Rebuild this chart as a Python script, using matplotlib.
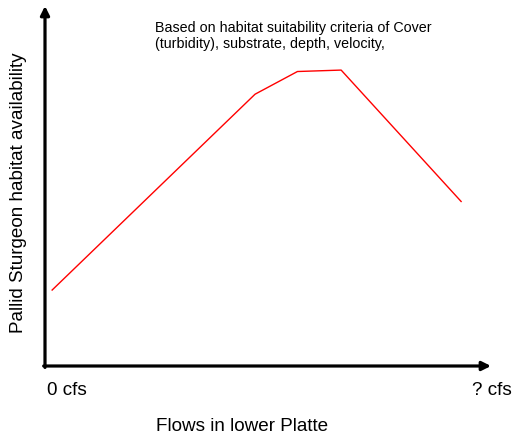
import matplotlib
matplotlib.use("Agg")
import matplotlib.pyplot as plt

plt.rcParams["font.family"] = ["Liberation Sans", "DejaVu Sans"]

# flow (arbitrary units, 0..100) vs habitat availability (0..100)
flow = [1.6, 47.1, 56.6, 66.4, 93.3]
habitat = [21.1, 75.5, 81.8, 82.2, 45.7]

W, H = 515, 440
fig = plt.figure(figsize=(W / 100, H / 100), dpi=100)

# axes: origin at (45, 366) px, x arrow to 491 px, y arrow to 6 px
ax = fig.add_axes([45 / W, (H - 366) / H, (491 - 45) / W, (366 - 6) / H])
ax.set_xlim(0, 100)
ax.set_ylim(0, 100)
ax.axis("off")

ax.plot(flow, habitat, color="#ff0000", lw=1.0)

arrow = dict(arrowstyle="-|>", lw=2.3, color="black", mutation_scale=13,
             shrinkA=0, shrinkB=0)
ax.annotate("", xy=(1, 0), xytext=(-0.003, 0), xycoords="axes fraction", arrowprops=arrow)
ax.annotate("", xy=(0, 1), xytext=(0, -0.004), xycoords="axes fraction", arrowprops=arrow)

def px(x, y):
    return x / W, 1 - y / H

fig.text(*px(155, 36), "Based on habitat suitability criteria of Cover\n(turbidity), substrate, depth, velocity,",
         fontsize=10.3, ha="left", va="center", linespacing=1.15)
fig.text(*px(47, 390), "0 cfs", fontsize=13.6, ha="left", va="center")
fig.text(*px(512, 390), "? cfs", fontsize=13.6, ha="right", va="center")
fig.text(*px(242.5, 426), "Flows in lower Platte", fontsize=13.6, ha="center", va="center")
fig.text(*px(19, 192.5), "Pallid Sturgeon habitat availability", fontsize=13.6,
         rotation=90, ha="center", va="center")

fig.savefig("out.png", dpi=100)
